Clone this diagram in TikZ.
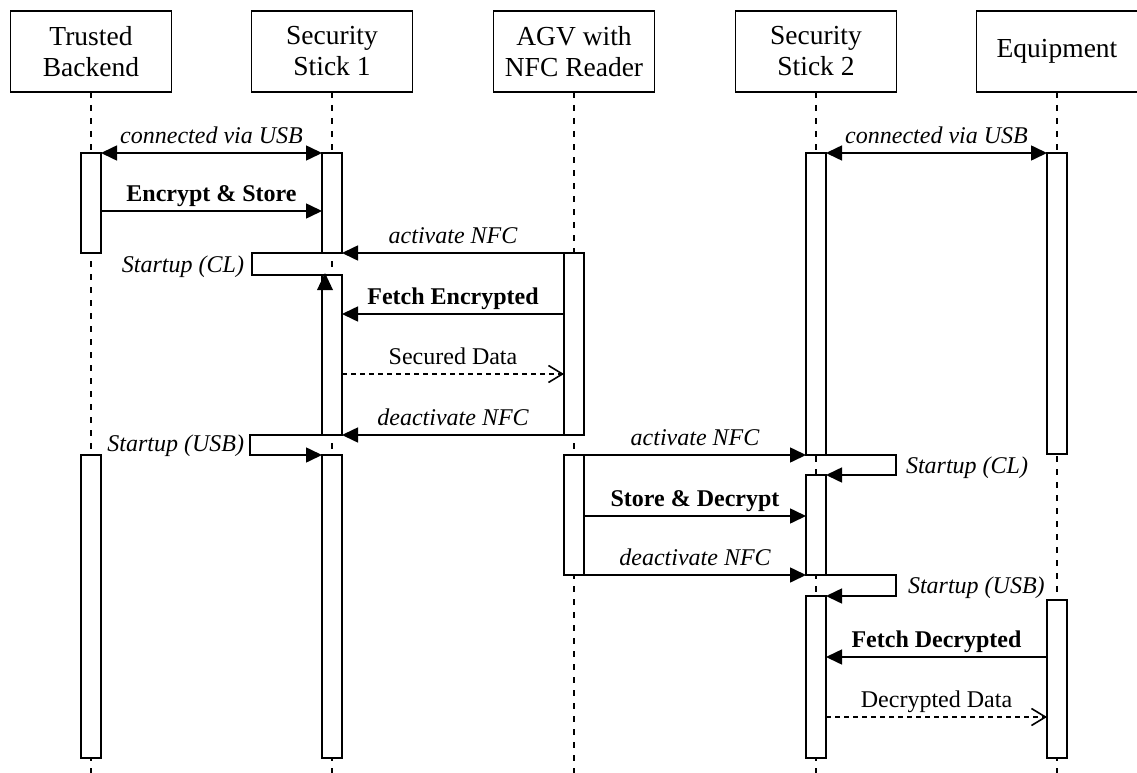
\documentclass[tikz,border=0pt]{standalone}
\usepackage{fontspec}
\setmainfont{Liberation Serif}
\usetikzlibrary{arrows.meta}
\begin{document}
\begin{tikzpicture}[x=1pt,y=-1pt,
  every node/.style={inner sep=0pt, outer sep=0pt},
  lane/.style={draw, line width=1.6pt, minimum width=161pt, minimum height=81pt,
    align=center, font=\fontsize{27.5}{31}\selectfont},
  life/.style={line width=1.6pt, dash pattern=on 6pt off 7pt},
  bar/.style={draw, line width=1.6pt, fill=white, minimum width=20pt, anchor=north},
  line/.style={line width=1.6pt},
  msg/.style={line width=1.6pt, -{Triangle[length=16pt,width=15pt]}},
  both/.style={line width=1.6pt, {Triangle[length=16pt,width=15pt]}-{Triangle[length=16pt,width=15pt]}},
  reply/.style={line width=1.6pt, dash pattern=on 5pt off 4pt,
    -{Straight Barb[length=14pt,width=17pt,line width=1.6pt]}},
  lbl/.style={anchor=base, yshift=10pt, font=\fontsize{24}{28}\selectfont},
  ilbl/.style={lbl, font=\fontsize{24}{28}\selectfont\itshape},
  blbl/.style={lbl, font=\fontsize{24}{28}\selectfont\bfseries},
  slbl/.style={font=\fontsize{24}{28}\selectfont\itshape},
]
\useasboundingbox (0,0) rectangle (1137,773);

% participants
\node[lane] (tb) at (91,51.5) {Trusted\\Backend};
\node[lane] (ss1) at (332,51.5) {Security\\Stick 1};
\node[lane] (agv) at (574,51.5) {AGV with\\NFC Reader};
\node[lane] (ss2) at (816,51.5) {Security\\Stick 2};
\node[lane] (eq) at (1057,51.5) {Equipment};

% lifelines
\foreach \p in {tb,ss1,agv,ss2,eq}
  \draw[life] (\p.south) -- (\p.south |- 0,773);

% activation bars
\node[bar, minimum height=100pt] (b1) at (91,153) {};
\node[bar, minimum height=303pt] (b2) at (91,455) {};
\node[bar, minimum height=100pt] (s1a) at (332,153) {};
\node[bar, minimum height=160pt] (s1b) at (332,275) {};
\node[bar, minimum height=303pt] (s1c) at (332,455) {};
\node[bar, minimum height=182pt] (g1) at (574,253) {};
\node[bar, minimum height=120pt] (g2) at (574,455) {};
\node[bar, minimum height=302pt] (s2a) at (816,153) {};
\node[bar, minimum height=100pt] (s2b) at (816,475) {};
\node[bar, minimum height=162pt] (s2c) at (816,596) {};
\node[bar, minimum height=301pt] (e1) at (1057,153) {};
\node[bar, minimum height=158pt] (e2) at (1057,600) {};

% provisioning at the backend
\draw[both] (b1.north east) -- node[ilbl] {connected via USB} (s1a.north west);
\draw[msg] (b1.east |- 0,211) -- node[blbl] {Encrypt \& Store} (s1a.west |- 0,211);

% pickup by the AGV
\draw[msg] (g1.north west) -- node[ilbl] {activate NFC} (s1a.south east);
\coordinate (cl1a) at (252,253);
\coordinate (cl1b) at (252,275);
\draw[line] (s1a.south west) -- (cl1a) -- (cl1b) -- (s1b.north west);
\fill (325,273) -- (317,290) -- (333,290) -- cycle;
\node[slbl, anchor=base east] (cl1) at (244,272) {Startup (CL)};
\draw[msg] (g1.west |- 0,314) -- node[blbl] {Fetch Encrypted} (s1b.east |- 0,314);
\draw[reply] (s1b.east |- 0,374) -- node[lbl] {Secured Data} (g1.west |- 0,374);
\draw[msg] (g1.south west) -- node[ilbl] {deactivate NFC} (s1b.south east);
\coordinate (usb1a) at (250,435);
\coordinate (usb1b) at (250,455);
\draw[msg] (s1b.south west) -- (usb1a) -- (usb1b) -- (s1c.north west);
\node[slbl, anchor=base east] (usb1) at (244,451) {Startup (USB)};

% delivery to the second stick
\draw[both] (s2a.north east) -- node[ilbl] {connected via USB} (e1.north west);
\draw[msg] (g2.north east) -- node[ilbl] {activate NFC} (s2a.south west);
\coordinate (cl2a) at (896,455);
\coordinate (cl2b) at (896,475);
\draw[msg] (s2a.south east) -- (cl2a) -- (cl2b) -- (s2b.north east);
\node[slbl, anchor=base west] (cl2) at (906,473) {Startup (CL)};
\draw[msg] (g2.east |- 0,516) -- node[blbl] {Store \& Decrypt} (s2b.west |- 0,516);
\draw[msg] (g2.south east) -- node[ilbl] {deactivate NFC} (s2b.south west);
\coordinate (usb2a) at (896,575);
\coordinate (usb2b) at (896,596);
\draw[msg] (s2b.south east) -- (usb2a) -- (usb2b) -- (s2c.north east);
\node[slbl, anchor=base west] (usb2) at (908,593) {Startup (USB)};
\draw[msg] (e2.west |- 0,657) -- node[blbl] {Fetch Decrypted} (s2c.east |- 0,657);
\draw[reply] (s2c.east |- 0,717) -- node[lbl] {Decrypted Data} (e2.west |- 0,717);
\end{tikzpicture}
\end{document}
